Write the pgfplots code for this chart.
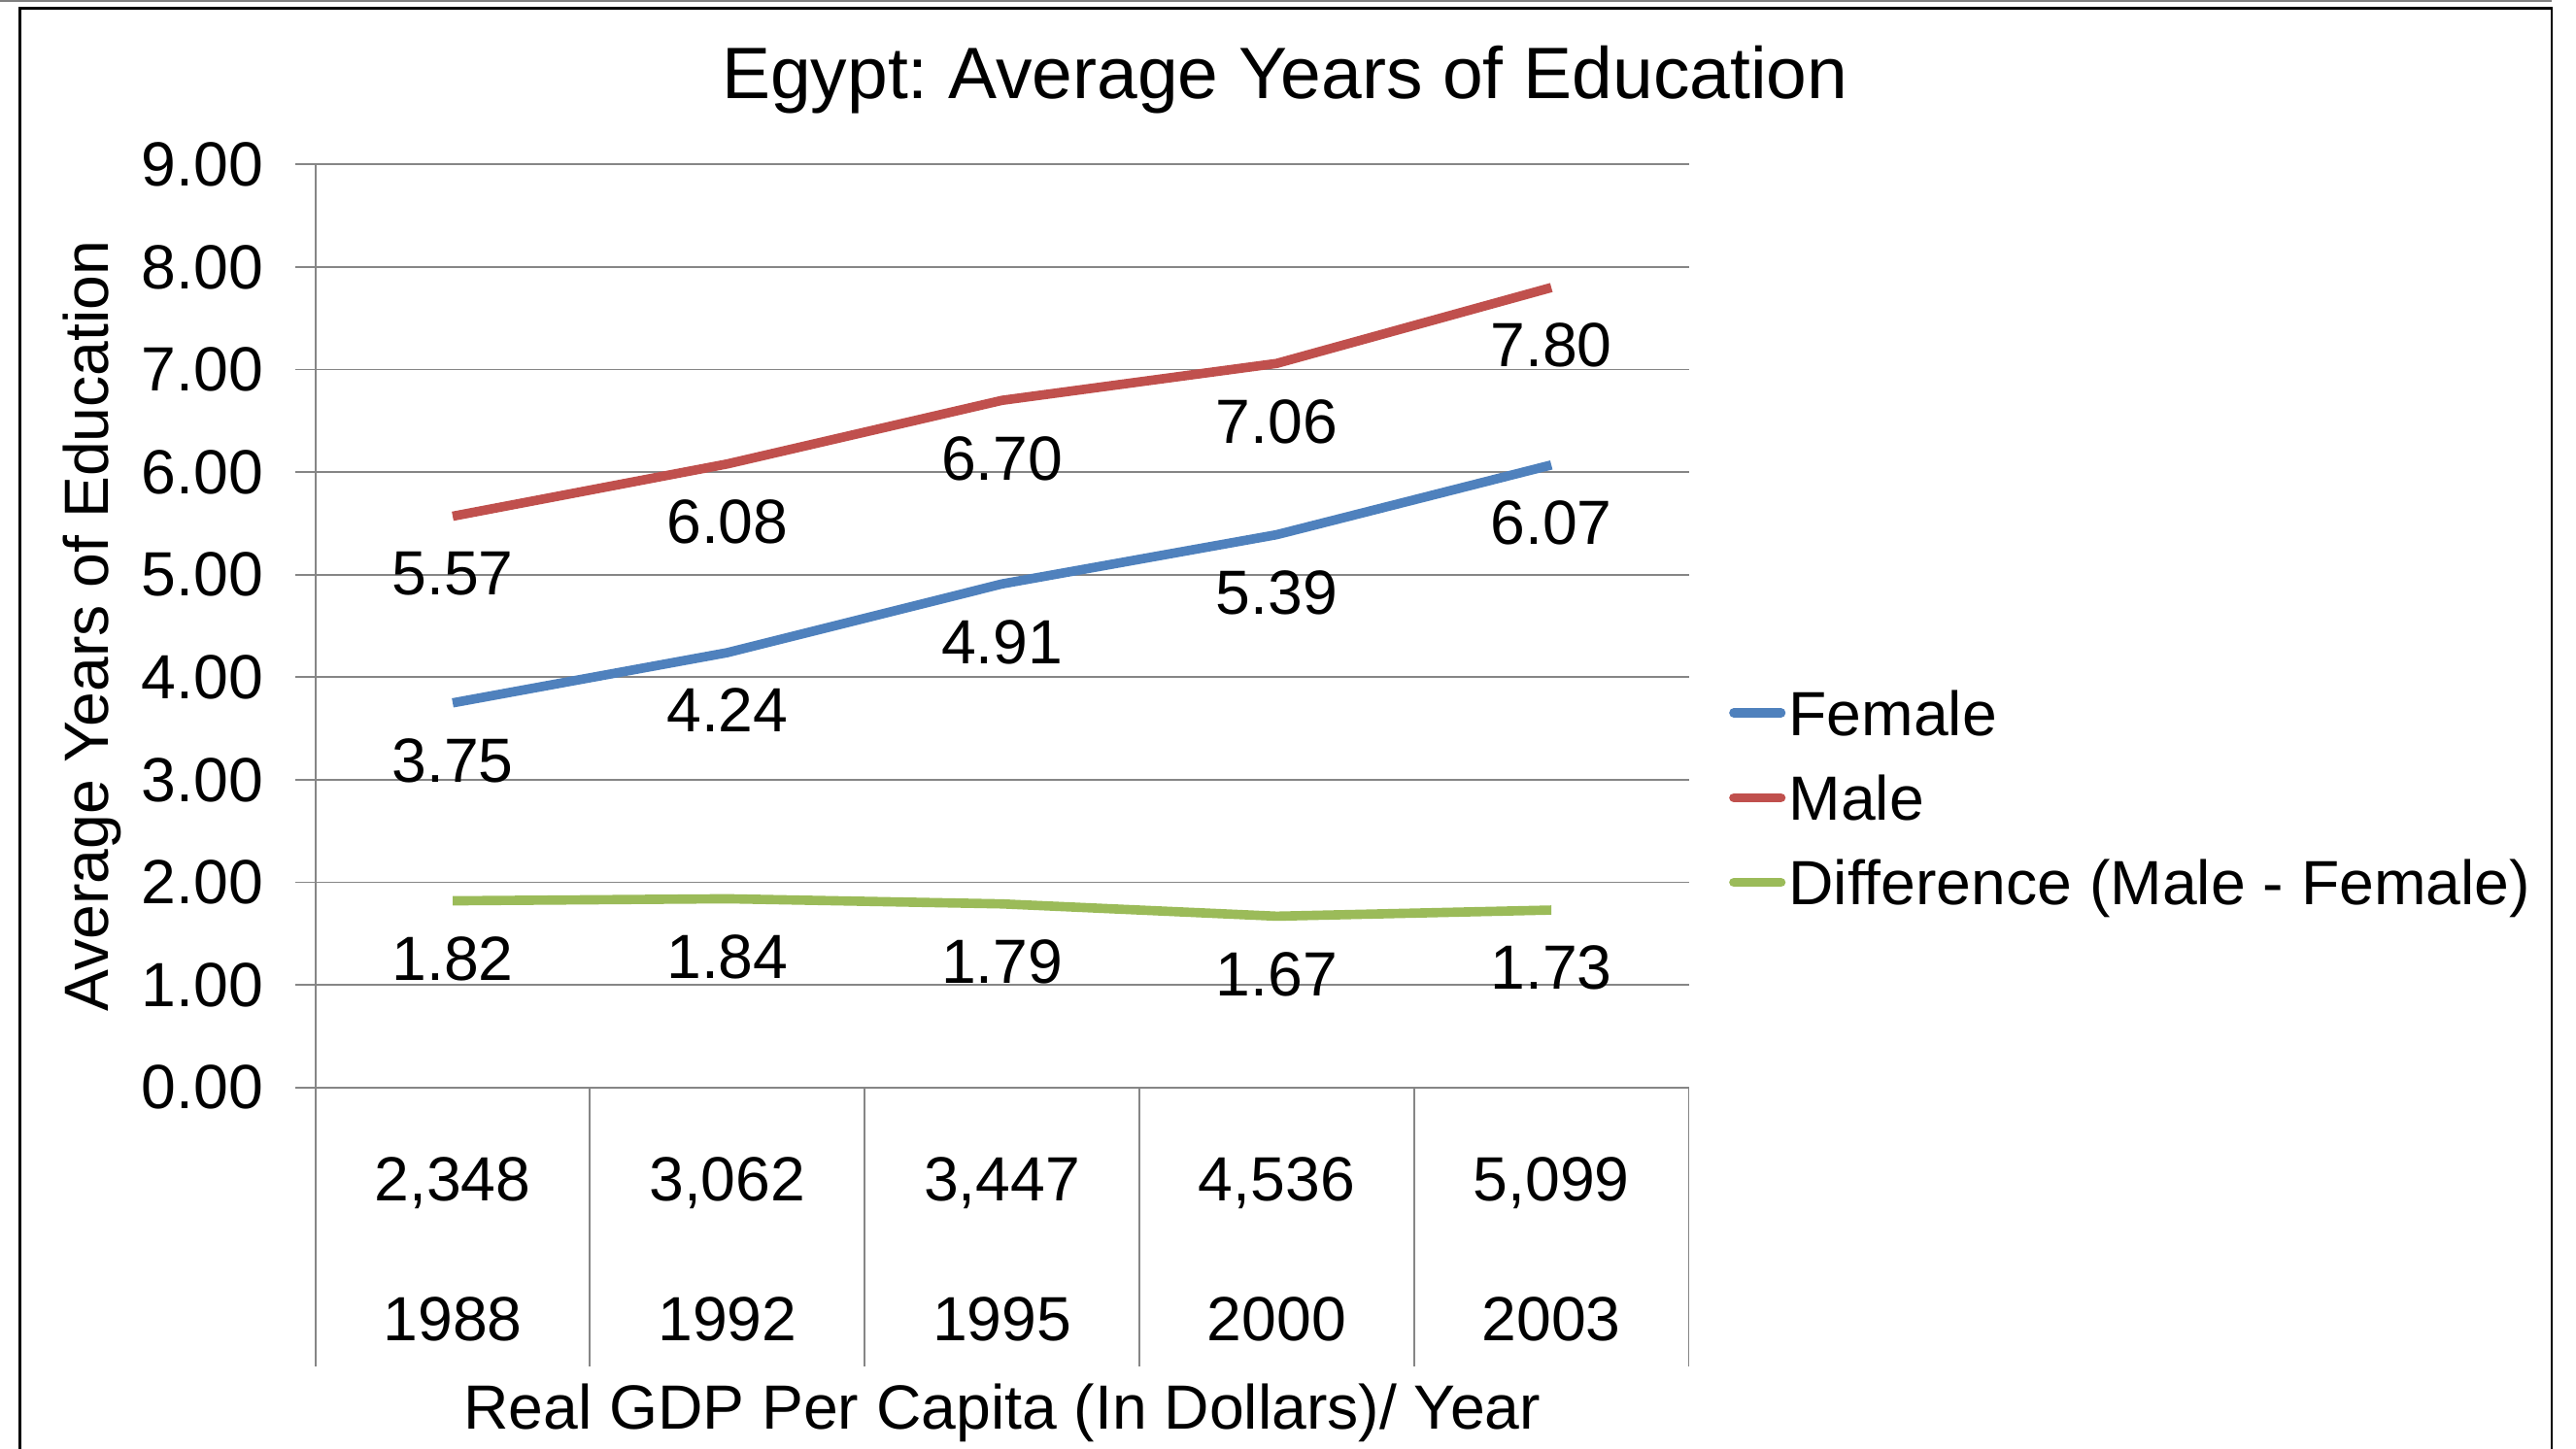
\documentclass[border=0pt]{standalone}
\usepackage{fontspec}
\setmainfont{Liberation Sans}
\usepackage{pgfplots}
\pgfplotsset{compat=1.18}
\definecolor{fem}{HTML}{4F81BD}
\definecolor{mal}{HTML}{C0504D}
\definecolor{dif}{HTML}{9BBB59}
\definecolor{gridgray}{HTML}{868686}
\newcommand{\lf}{\fontsize{12}{14.4}\selectfont}
\frenchspacing
\begin{document}
\begin{tikzpicture}
\path[use as bounding box] (-60.6pt,-69.45pt) rectangle (434.4pt,209.0pt);
\draw[black, line width=0.5pt] (-56.8pt,-75pt) -- (-56.8pt,207.4pt) -- (429.7pt,207.4pt) -- (429.7pt,-75pt);
\draw[gray, line width=0.4pt] (-60.6pt,208.9pt) -- (429.7pt,208.9pt);
\node[font=\fontsize{14}{17}\selectfont, anchor=base, inner sep=0pt] at (186.3pt,190.0pt) {Egypt: Average Years of Education};
\begin{axis}[
  at={(0,0)}, anchor=south west,
  scale only axis, width=263.9pt, height=177.4pt,
  xmin=-0.5, xmax=4.5, ymin=0, ymax=9,
  enlargelimits=false, clip=false,
  axis lines*=left,
  axis line style={draw=gridgray, line width=0.35pt},
  xtick={0,1,2,3,4},
  xticklabels={{2,348\\1988},{3,062\\1992},{3,447\\1995},{4,536\\2000},{5,099\\2003}},
  xticklabel style={align=center, font=\fontsize{12}{26.8}\selectfont, anchor=north, inner sep=0pt, yshift=-9.4pt},
  ytick={0,1,2,3,4,5,6,7,8,9},
  yticklabel={\pgfmathprintnumber[fixed,fixed zerofill,precision=2,assume math mode=true]{\tick}},
  yticklabel style={font=\lf, anchor=east, inner sep=0pt, xshift=-6.0pt},
  ymajorgrids, grid style={draw=gridgray, line width=0.35pt},
  tick align=outside, major tick length=3.8pt,
  xtick style={draw=none},
  ytick style={draw=gridgray, line width=0.35pt},
  ylabel={Average Years of Education},
  ylabel style={font=\lf, at={(axis description cs:-0.1507,0.5)}, anchor=base, rotate=0, inner sep=0pt},
  xlabel={Real GDP Per Capita (In Dollars)/ Year},
  xlabel style={font=\lf, at={(axis description cs:0.5,0)}, anchor=base, yshift=-65.7pt, inner sep=0pt},
  nodes near coords={\pgfmathprintnumber[fixed,fixed zerofill,precision=2,assume math mode=true]{\pgfplotspointmeta}},
  every node near coord/.append style={font=\lf, text=black, anchor=north, inner sep=0pt, yshift=-6.0pt},
  legend cell align=left,
  legend style={draw=none, fill=none, font=\lf, at={(axis description cs:1.0287,0.314)}, anchor=west,
    inner sep=0pt, row sep=7.7pt, column sep=0.6pt,
    nodes={inner sep=0pt, text height=8.6pt, text depth=0pt}},
  legend image code/.code={\draw[#1, line cap=round] (0.85pt,0pt) -- (9.9pt,0pt);},
]
\pgfplotsinvokeforeach{-0.5,0.5,1.5,2.5,3.5,4.5}{
  \draw[gridgray, line width=0.35pt] (axis cs:#1,0) -- ++(0pt,-53.7pt);
}
\addplot[fem, line width=1.8pt, line join=round, mark=none] coordinates {(0,3.75) (1,4.24) (2,4.91) (3,5.39) (4,6.07)};
\addlegendentry{Female}
\addplot[mal, line width=1.8pt, line join=round, mark=none] coordinates {(0,5.57) (1,6.08) (2,6.70) (3,7.06) (4,7.80)};
\addlegendentry{Male}
\addplot[dif, line width=1.8pt, line join=round, mark=none] coordinates {(0,1.82) (1,1.84) (2,1.79) (3,1.67) (4,1.73)};
\addlegendentry{Difference (Male - Female)}
\end{axis}
\end{tikzpicture}
\end{document}
